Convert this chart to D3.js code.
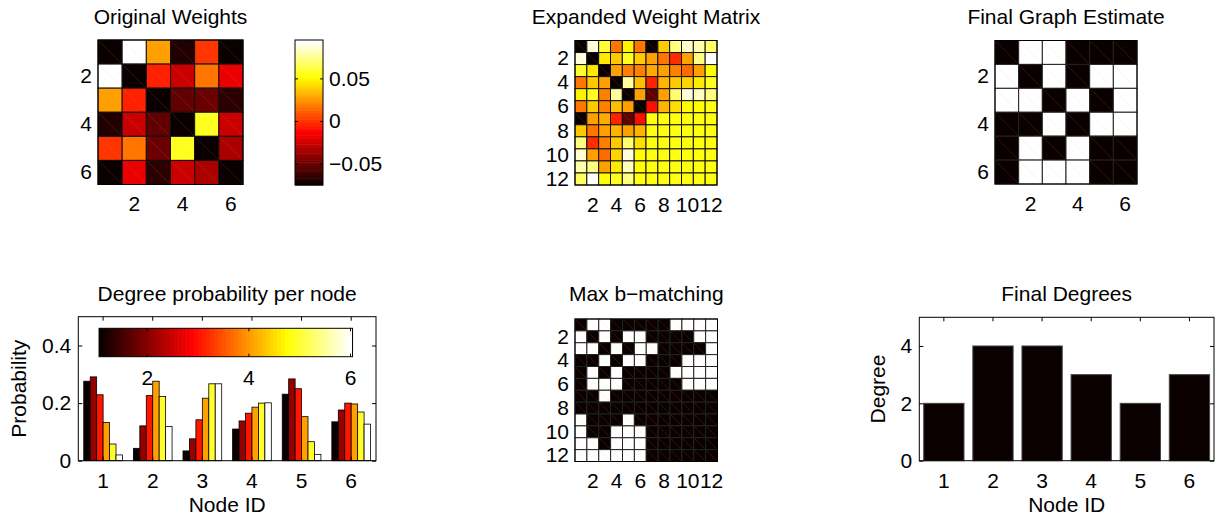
<!DOCTYPE html>
<html lang="en">
<head>
<meta charset="UTF-8">
<title>b-matching</title>
<script src="https://d3js.org/d3.v7.min.js"></script>
<style>
  body { margin: 0; background: #fff; }
  svg text { font-family: "Liberation Sans", Arial, Helvetica, sans-serif; }
</style>
</head>
<body>
<div id="chart"></div>
<script>
// ---- data ----
const origWeights = [
  [-0.075, 0.095, 0.027, -0.070, 0.000, -0.075],
  [0.095, -0.075, -0.004, -0.026, 0.017, -0.017],
  [0.027, -0.004, -0.075, -0.054, -0.050, -0.066],
  [-0.070, -0.026, -0.054, -0.075, 0.056, -0.026],
  [0.000, 0.017, -0.050, 0.056, -0.075, -0.035],
  [-0.075, -0.017, -0.066, -0.026, -0.035, -0.075]
];
const weightRange = [-0.075, 0.095];
const weightTicks = [-0.05, 0, 0.05];

// expanded matrix, already scaled to the colormap (0 = black, 1 = white)
const expandedWeights = [
  [0, .97, .80, .54, .73, .54, 0, .66, .88, .95, .92, .84],
  [.97, 0, .72, .66, .78, .66, .60, .54, .43, .60, .88, 1],
  [.80, .72, 0, .60, .56, .56, .62, .60, .55, .53, .61, .74],
  [.54, .66, .60, 0, .91, .65, .42, .64, .66, .68, .71, .77],
  [.73, .78, .56, .91, 0, .61, .125, .60, .86, .97, .94, .88],
  [.54, .66, .56, .65, .61, 0, .375, .64, .70, .74, .75, .76],
  [0, .60, .62, .42, .125, .375, .76, .76, .76, .76, .76, .76],
  [.66, .54, .60, .64, .60, .64, .76, .76, .76, .76, .76, .76],
  [.88, .43, .55, .66, .86, .70, .76, .76, .76, .76, .76, .76],
  [.95, .60, .53, .68, .97, .74, .76, .76, .76, .76, .76, .76],
  [.92, .88, .61, .71, .94, .75, .76, .76, .76, .76, .76, .76],
  [.84, 1, .74, .77, .88, .76, .76, .76, .76, .76, .76, .76]
];

const finalGraph = [
  [0, 1, 1, 0, 0, 0],
  [1, 0, 1, 0, 1, 1],
  [1, 1, 0, 1, 0, 1],
  [0, 0, 1, 0, 1, 1],
  [0, 1, 0, 1, 0, 0],
  [0, 1, 1, 1, 0, 0]
];

const bMatching = [
  [0, 1, 1, 0, 0, 0, 0, 0, 1, 1, 1, 1],
  [1, 0, 1, 0, 1, 1, 0, 0, 0, 0, 1, 1],
  [1, 1, 0, 1, 0, 1, 1, 0, 0, 0, 0, 1],
  [0, 0, 1, 0, 1, 1, 0, 0, 0, 1, 1, 1],
  [0, 1, 0, 1, 0, 0, 0, 0, 1, 1, 1, 1],
  [0, 1, 1, 1, 0, 0, 0, 0, 0, 1, 1, 1],
  [0, 0, 1, 0, 0, 0, 0, 0, 0, 0, 0, 0],
  [0, 0, 0, 0, 0, 0, 0, 0, 0, 0, 0, 0],
  [1, 0, 0, 0, 1, 0, 0, 0, 0, 0, 0, 0],
  [1, 0, 0, 1, 1, 1, 0, 0, 0, 0, 0, 0],
  [1, 1, 0, 1, 1, 1, 0, 0, 0, 0, 0, 0],
  [1, 1, 1, 1, 1, 1, 0, 0, 0, 0, 0, 0]
];

const nodeIds = [1, 2, 3, 4, 5, 6];
const degreeLevels = [1, 2, 3, 4, 5, 6];
const degreeProb = [
  [0.276, 0.291, 0.229, 0.133, 0.058, 0.020],
  [0.043, 0.121, 0.226, 0.276, 0.223, 0.119],
  [0.034, 0.076, 0.142, 0.217, 0.267, 0.267],
  [0.110, 0.138, 0.165, 0.186, 0.200, 0.201],
  [0.231, 0.284, 0.250, 0.153, 0.066, 0.022],
  [0.135, 0.176, 0.200, 0.197, 0.169, 0.127]
];
const probTicks = [0, 0.2, 0.4];
const degreeBarTicks = [2, 4, 6];
const finalDegrees = [2, 4, 4, 3, 2, 3];
const degreeTicks = [0, 2, 4];

// ---- helpers ----
const FS = 21;

// MATLAB hot(64)
function hot(t) {
  const k = Math.max(0, Math.min(63, Math.round(t * 63)));
  const r = Math.min(1, (k + 1) / 24);
  const g = Math.max(0, Math.min(1, (k + 1 - 24) / 24));
  const b = Math.max(0, Math.min(1, (k + 1 - 48) / 16));
  return d3.rgb(r * 255, g * 255, b * 255).formatHex();
}

const svg = d3.select("#chart").append("svg")
  .attr("width", 1221)
  .attr("height", 516)
  .style("background", "#fff");

function styleAxis(g) {
  g.attr("font-size", FS).attr("font-family", null);
  g.select(".domain").remove();
  g.selectAll(".tick line").attr("stroke", "#000");
  g.selectAll(".tick text").attr("fill", "#000");
}

function addTitle(text, cx, y) {
  svg.append("text")
    .attr("x", cx).attr("y", y)
    .attr("text-anchor", "middle")
    .attr("font-size", FS)
    .text(text);
}

function drawMatrix(opt) {
  const n = opt.data.length;
  const xs = d3.scaleBand().domain(d3.range(n)).range([opt.x, opt.x + opt.w]);
  const ys = d3.scaleBand().domain(d3.range(n)).range([opt.y, opt.y + opt.h]);
  const cells = opt.data.flatMap((row, i) => row.map((v, j) => ({ i, j, v })));
  const g = svg.append("g");

  g.selectAll("rect.cell").data(cells).join("rect")
    .attr("class", "cell")
    .attr("x", d => xs(d.j))
    .attr("y", d => ys(d.i))
    .attr("width", xs.bandwidth())
    .attr("height", ys.bandwidth())
    .attr("fill", d => opt.fill(d.v))
    .attr("stroke", opt.edge || "#111")
    .attr("stroke-width", 1);

  // faint triangle seam that the original renderer left in each cell
  g.selectAll("line.seam").data(cells).join("line")
    .attr("class", "seam")
    .attr("x1", d => xs(d.j) + 1)
    .attr("y1", d => ys(d.i) + 1)
    .attr("x2", d => xs(d.j) + xs.bandwidth() - 1)
    .attr("y2", d => ys(d.i) + ys.bandwidth() - 1)
    .attr("stroke", "#e8a070")
    .attr("stroke-opacity", 0.2)
    .attr("stroke-width", 0.7);

  g.append("rect")
    .attr("x", opt.x).attr("y", opt.y)
    .attr("width", opt.w).attr("height", opt.h)
    .attr("fill", "none").attr("stroke", "#000");

  const tv = d3.range(1, n, 2);
  g.append("g")
    .attr("transform", `translate(${opt.x},0)`)
    .call(d3.axisLeft(ys).tickValues(tv).tickFormat(i => i + 1).tickSize(0).tickPadding(6))
    .call(styleAxis);
  g.append("g")
    .attr("transform", `translate(0,${opt.y + opt.h})`)
    .call(d3.axisBottom(xs).tickValues(tv).tickFormat(i => i + 1).tickSize(0).tickPadding(12))
    .call(styleAxis);

  addTitle(opt.title, opt.x + opt.w / 2, opt.titleY);
}

// ---- panel 1: original weights ----
const wScale = d3.scaleLinear().domain(weightRange).range([0, 1]);
drawMatrix({
  x: 98, y: 40, w: 145, h: 144.5,
  data: origWeights,
  fill: v => hot(wScale(v)),
  title: "Original Weights", titleY: 24
});

// colorbar for the weights
const cbY = d3.scaleLinear().domain(weightRange).range([185, 40]);
const cbSteps = d3.range(64);
const cbStep = (weightRange[1] - weightRange[0]) / 64;
svg.append("g").selectAll("rect").data(cbSteps).join("rect")
  .attr("x", 295)
  .attr("width", 28)
  .attr("y", k => cbY(weightRange[0] + (k + 1) * cbStep))
  .attr("height", k => cbY(weightRange[0] + k * cbStep) - cbY(weightRange[0] + (k + 1) * cbStep) + 0.5)
  .attr("fill", k => hot(k / 63));
svg.append("rect")
  .attr("x", 295).attr("y", 40).attr("width", 28).attr("height", 145)
  .attr("fill", "none").attr("stroke", "#000");
svg.append("g")
  .attr("transform", "translate(323,0)")
  .call(d3.axisRight(cbY).tickValues(weightTicks)
    .tickFormat(d => d === 0 ? "0" : d3.format(".2f")(d)).tickSize(-3).tickPadding(6))
  .call(styleAxis);
svg.append("g")
  .attr("transform", "translate(295,0)")
  .call(d3.axisLeft(cbY).tickValues(weightTicks).tickFormat("").tickSize(-3))
  .call(styleAxis);

// ---- panel 2: expanded weight matrix ----
drawMatrix({
  x: 575, y: 40.5, w: 142, h: 144.5,
  data: expandedWeights,
  fill: v => hot(v),
  title: "Expanded Weight Matrix", titleY: 24
});

// ---- panel 3: final graph estimate ----
drawMatrix({
  x: 995, y: 40.5, w: 142, h: 143.5,
  data: finalGraph,
  fill: v => v ? "#ffffff" : hot(0),
  edge: "#222",
  title: "Final Graph Estimate", titleY: 24
});

// ---- panel 5: max b-matching ----
drawMatrix({
  x: 575, y: 319, w: 142.5, h: 142.5,
  data: bMatching,
  fill: v => v ? "#ffffff" : hot(0),
  edge: "#222",
  title: "Max b\u2212matching", titleY: 301
});

// ---- bar chart frame ----
function barFrame(box, x, y, yTicks, yFmt, ylabel, ylabelX) {
  const g = svg.append("g");
  g.append("g")
    .attr("transform", `translate(0,${box.y1})`)
    .call(d3.axisBottom(x).tickSize(-4).tickPadding(12))
    .call(styleAxis);
  g.append("g")
    .attr("transform", `translate(0,${box.y0})`)
    .call(d3.axisTop(x).tickSize(-4).tickFormat(""))
    .call(styleAxis);
  g.append("g")
    .attr("transform", `translate(${box.x0},0)`)
    .call(d3.axisLeft(y).tickValues(yTicks).tickFormat(yFmt).tickSize(-4).tickPadding(7))
    .call(styleAxis);
  g.append("g")
    .attr("transform", `translate(${box.x1},0)`)
    .call(d3.axisRight(y).tickValues(yTicks).tickFormat("").tickSize(-4))
    .call(styleAxis);
  g.append("rect")
    .attr("x", box.x0).attr("y", box.y0)
    .attr("width", box.x1 - box.x0).attr("height", box.y1 - box.y0)
    .attr("fill", "none").attr("stroke", "#000");
  svg.append("text")
    .attr("x", (box.x0 + box.x1) / 2).attr("y", 512)
    .attr("text-anchor", "middle").attr("font-size", FS)
    .text("Node ID");
  svg.append("text")
    .attr("transform", `translate(${ylabelX},${(box.y0 + box.y1) / 2}) rotate(-90)`)
    .attr("text-anchor", "middle").attr("font-size", FS)
    .text(ylabel);
  return g;
}

// ---- panel 4: degree probability per node ----
const box4 = { x0: 78.3, x1: 376, y0: 316.7, y1: 460.7 };
const x4 = d3.scaleBand().domain(nodeIds).range([box4.x0, box4.x1])
  .paddingInner(0.22).paddingOuter(0.11);
const x4in = d3.scaleBand().domain(degreeLevels).range([0, x4.bandwidth()]);
const y4 = d3.scaleLinear().domain([0, 0.5]).range([box4.y1, box4.y0]);
const levelColor = d3.scaleLinear().domain([1, 6]).range([0, 1]);

svg.append("g").selectAll("g").data(degreeProb).join("g")
  .attr("transform", (d, i) => `translate(${x4(nodeIds[i])},0)`)
  .selectAll("rect").data(d => d.map((p, k) => ({ p, level: degreeLevels[k] }))).join("rect")
  .attr("x", d => x4in(d.level))
  .attr("width", x4in.bandwidth())
  .attr("y", d => y4(d.p))
  .attr("height", d => y4(0) - y4(d.p))
  .attr("fill", d => hot(levelColor(d.level)))
  .attr("stroke", "#000")
  .attr("stroke-width", 0.8);

barFrame(box4, x4, y4, probTicks, d => d === 0 ? "0" : d3.format(".1f")(d), "Probability", 26);
addTitle("Degree probability per node", (box4.x0 + box4.x1) / 2, 301);

// horizontal colorbar inside panel 4
const cbX = d3.scaleLinear().domain([1, 6]).range([96, 350]);
const cbLo = 1.06, cbHi = 6.05;
const cbXStep = (cbHi - cbLo) / 64;
svg.append("g").selectAll("rect").data(cbSteps).join("rect")
  .attr("x", k => cbX(cbLo + k * cbXStep))
  .attr("width", cbX(cbLo + cbXStep) - cbX(cbLo) + 0.6)
  .attr("y", 328.3)
  .attr("height", 28.4)
  .attr("fill", k => hot(k / 63));
svg.append("rect")
  .attr("x", cbX(cbLo)).attr("y", 328.3)
  .attr("width", cbX(cbHi) - cbX(cbLo)).attr("height", 28.4)
  .attr("fill", "none").attr("stroke", "#000");
svg.append("g")
  .attr("transform", "translate(0,356.7)")
  .call(d3.axisBottom(cbX).tickValues(degreeBarTicks).tickFormat(d3.format("d")).tickSize(-3).tickPadding(13))
  .call(styleAxis);
svg.append("g")
  .attr("transform", "translate(0,328.3)")
  .call(d3.axisTop(cbX).tickValues(degreeBarTicks).tickFormat("").tickSize(-3))
  .call(styleAxis);

// ---- panel 6: final degrees ----
const box6 = { x0: 919.3, x1: 1214, y0: 317.3, y1: 460.7 };
const x6 = d3.scaleBand().domain(nodeIds).range([box6.x0, box6.x1])
  .paddingInner(0.18).paddingOuter(0.09);
const y6 = d3.scaleLinear().domain([0, 5]).range([box6.y1, box6.y0]);

svg.append("g").selectAll("rect").data(finalDegrees).join("rect")
  .attr("x", (d, i) => x6(nodeIds[i]))
  .attr("width", x6.bandwidth())
  .attr("y", d => y6(d))
  .attr("height", d => y6(0) - y6(d))
  .attr("fill", hot(0))
  .attr("stroke", "#444")
  .attr("stroke-width", 1);

barFrame(box6, x6, y6, degreeTicks, d3.format("d"), "Degree", 884.5);
addTitle("Final Degrees", (box6.x0 + box6.x1) / 2, 301);
</script>
</body>
</html>
